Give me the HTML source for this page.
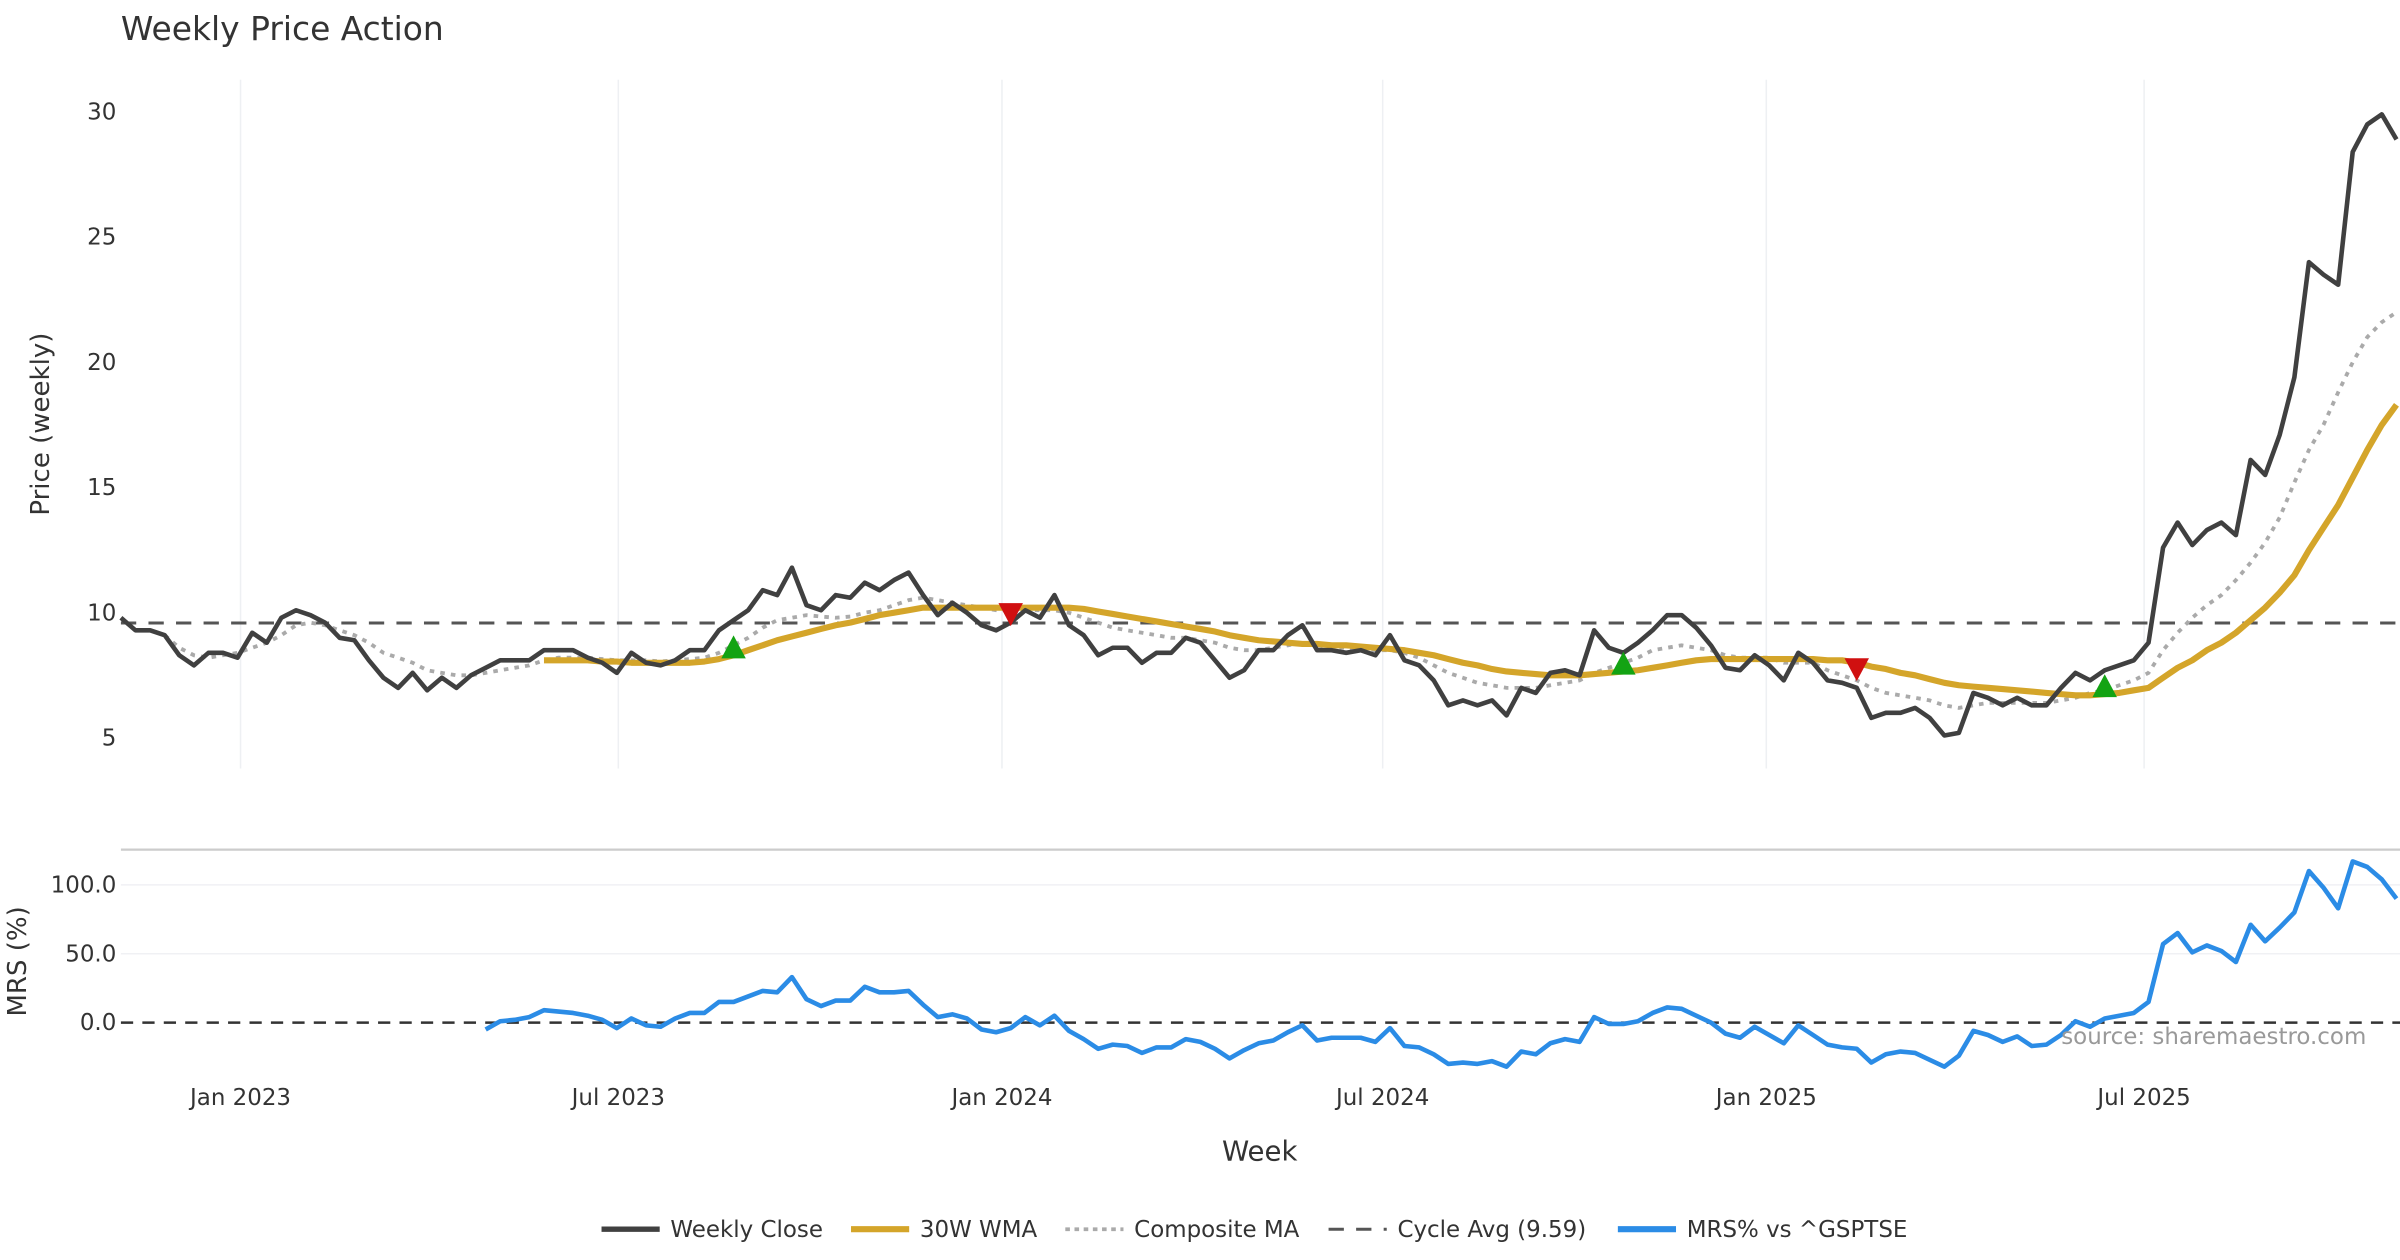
<!DOCTYPE html>
<html><head><meta charset="utf-8"><style>
html,body{margin:0;padding:0;background:#fff;}
svg{display:block;font-family:"DejaVu Sans","Liberation Sans",sans-serif;}
</style></head><body>
<svg id="chart" width="2400" height="1260" viewBox="0 0 1568 823" xmlns="http://www.w3.org/2000/svg">
<rect width="1568" height="823" fill="#fff"/>
<text x="79" y="26" font-size="21.5" fill="#333">Weekly Price Action</text>
<g id="grid"></g>
<g id="price"></g>
<g id="mrs"></g>
<g id="axes"></g>
<text transform="translate(32,277) rotate(-90)" text-anchor="middle" font-size="17" fill="#333">Price (weekly)</text>
<text transform="translate(17,628) rotate(-90)" text-anchor="middle" font-size="17" fill="#333">MRS (%)</text>
<text x="823" y="758" text-anchor="middle" font-size="18" fill="#333">Week</text>
<text x="1546" y="682" text-anchor="end" font-size="15" fill="#999">source: sharemaestro.com</text>
<g font-size="15" fill="#333">
 <g><line x1="393" y1="803" x2="431" y2="803" stroke="#404040" stroke-width="3.5"/><text x="438" y="808">Weekly Close</text></g>
 <g><line x1="556" y1="803" x2="594" y2="803" stroke="#d4a52a" stroke-width="4"/><text x="601" y="808">30W WMA</text></g>
 <g><line x1="696" y1="803" x2="734" y2="803" stroke="#aaa" stroke-width="2.5" stroke-dasharray="3,3"/><text x="741" y="808">Composite MA</text></g>
 <g><line x1="868" y1="803" x2="906" y2="803" stroke="#555" stroke-width="2" stroke-dasharray="10,8"/><text x="913" y="808">Cycle Avg (9.59)</text></g>
 <g><line x1="1057" y1="803" x2="1095" y2="803" stroke="#2b8ce6" stroke-width="4"/><text x="1102" y="808">MRS% vs ^GSPTSE</text></g>
</g>
</svg>
<script>
const closeVals=[9.8,9.3,9.3,9.1,8.3,7.9,8.4,8.4,8.2,9.2,8.8,9.8,10.1,9.9,9.6,9.0,8.9,8.1,7.4,7.0,7.6,6.9,7.4,7.0,7.5,7.8,8.1,8.1,8.1,8.5,8.5,8.5,8.2,8.0,7.6,8.4,8.0,7.9,8.1,8.5,8.5,9.3,9.7,10.1,10.9,10.7,11.8,10.3,10.1,10.7,10.6,11.2,10.9,11.3,11.6,10.7,9.9,10.4,10.0,9.5,9.3,9.6,10.1,9.8,10.7,9.5,9.1,8.3,8.6,8.6,8.0,8.4,8.4,9.0,8.8,8.1,7.4,7.7,8.5,8.5,9.1,9.5,8.5,8.5,8.4,8.5,8.3,9.1,8.1,7.9,7.3,6.3,6.5,6.3,6.5,5.9,7.0,6.8,7.6,7.7,7.5,9.3,8.6,8.4,8.8,9.3,9.9,9.9,9.4,8.7,7.8,7.7,8.3,7.9,7.3,8.4,8.0,7.3,7.2,7.0,5.8,6.0,6.0,6.2,5.8,5.1,5.2,6.8,6.6,6.3,6.6,6.3,6.3,7.0,7.6,7.3,7.7,7.9,8.1,8.8,12.6,13.6,12.7,13.3,13.6,13.1,16.1,15.5,17.1,19.4,24.0,23.5,23.1,28.4,29.5,29.9,28.9];
const wmaStart=29;
const wmaVals=[8.1,8.1,8.1,8.1,8.05,8.05,8.0,8.0,8.0,8.0,8.0,8.05,8.15,8.3,8.5,8.7,8.9,9.05,9.2,9.35,9.5,9.6,9.75,9.9,10.0,10.1,10.2,10.2,10.2,10.2,10.2,10.2,10.2,10.2,10.2,10.2,10.2,10.15,10.05,9.95,9.85,9.75,9.65,9.55,9.45,9.35,9.25,9.1,9.0,8.9,8.85,8.8,8.75,8.75,8.7,8.7,8.65,8.6,8.55,8.5,8.4,8.3,8.15,8.0,7.9,7.75,7.65,7.6,7.55,7.5,7.5,7.5,7.55,7.6,7.65,7.7,7.8,7.9,8.0,8.1,8.15,8.15,8.15,8.15,8.15,8.15,8.15,8.15,8.1,8.1,8.0,7.85,7.75,7.6,7.5,7.35,7.2,7.1,7.05,7.0,6.95,6.9,6.85,6.8,6.75,6.7,6.7,6.75,6.8,6.9,7.0,7.4,7.8,8.1,8.5,8.8,9.2,9.7,10.2,10.8,11.5,12.5,13.4,14.3,15.4,16.5,17.5,18.3];
const compStart=3;
const compVals=[9.1,8.6,8.3,8.2,8.3,8.4,8.6,8.8,9.1,9.5,9.6,9.5,9.3,9.1,8.8,8.4,8.2,8.0,7.7,7.6,7.5,7.5,7.6,7.7,7.8,7.9,8.1,8.2,8.2,8.2,8.15,8.1,8.1,8.1,8.05,8.1,8.15,8.2,8.4,8.7,9.0,9.4,9.7,9.8,9.9,9.85,9.8,9.85,10.0,10.1,10.3,10.5,10.6,10.5,10.4,10.3,10.2,10.1,10.1,10.1,10.1,10.1,10.0,9.8,9.6,9.4,9.3,9.2,9.1,9.0,9.0,8.9,8.8,8.6,8.5,8.5,8.6,8.7,8.8,8.7,8.6,8.6,8.5,8.5,8.5,8.4,8.2,7.9,7.6,7.4,7.2,7.1,7.0,7.0,7.0,7.1,7.2,7.3,7.6,7.8,8.0,8.2,8.5,8.6,8.7,8.6,8.5,8.3,8.2,8.2,8.2,8.0,8.0,8.0,7.7,7.5,7.3,7.0,6.8,6.7,6.6,6.5,6.3,6.2,6.3,6.4,6.4,6.4,6.4,6.4,6.5,6.6,6.8,6.9,7.1,7.3,7.6,8.5,9.2,9.8,10.3,10.7,11.3,12.0,12.8,13.8,15.2,16.5,17.5,18.8,20.0,21.0,21.6,22.0];
const cycleAvg=9.59;
const mrsStart=25;
const mrsVals=[-5,1,2,4,9,8,7,5,2,-4,3,-2,-3,3,7,7,15,15,19,23,22,33,17,12,16,16,26,22,22,23,13,4,6,3,-5,-7,-4,4,-2,5,-6,-12,-19,-16,-17,-22,-18,-18,-12,-14,-19,-26,-20,-15,-13,-7,-2,-13,-11,-11,-11,-14,-4,-17,-18,-23,-30,-29,-30,-28,-32,-21,-23,-15,-12,-14,4,-1,-1,1,7,11,10,5,0,-8,-11,-3,-9,-15,-2,-9,-16,-18,-19,-29,-23,-21,-22,-27,-32,-24,-6,-9,-14,-10,-17,-16,-9,1,-3,3,5,7,15,57,65,51,56,52,44,71,59,69,80,110,98,83,117,113,104,90];
const buySignals=[42,103,136];
const sellSignals=[61,119];
const priceTicks=[5,10,15,20,25,30];
const mrsTicks=[0,50,100];
const xTickIdx=[8.2,34.1,60.4,86.5,112.8,138.7];
const xTickLabels=["Jan 2023","Jul 2023","Jan 2024","Jul 2024","Jan 2025","Jul 2025"];

const NS="http://www.w3.org/2000/svg";
const X0=79, STEP=9.53;
const xS=i=>X0+i*STEP;
const yP=v=>482-(v-5)*16.36;
const yM=v=>668-v*0.9;
function mk(tag,attrs,parent){const e=document.createElementNS(NS,tag);for(const k in attrs)e.setAttribute(k,attrs[k]);parent.appendChild(e);return e;}
const grid=document.getElementById('grid'),price=document.getElementById('price'),mrs=document.getElementById('mrs'),axes=document.getElementById('axes');

xTickIdx.forEach((t,k)=>{
  const x=xS(t);
  const g1=mk('line',{x1:x,y1:52,x2:x,y2:502,stroke:'#eef0f3','stroke-width':1},grid);
  
  
  const lab=mk('text',{x:x,y:722,'text-anchor':'middle','font-size':15,fill:'#333'},axes);
  lab.textContent=xTickLabels[k];
  
  
});
priceTicks.forEach(v=>{
  const t=mk('text',{x:76,y:yP(v)+5,'text-anchor':'end','font-size':15,fill:'#333'},axes);
  t.textContent=v;
  
  
});
mrsTicks.forEach(v=>{
  if(v!==0){const gl=mk('line',{x1:79,y1:yM(v),x2:1568,y2:yM(v),stroke:'#f0f1f4','stroke-width':1},grid);
  
  }
  const t=mk('text',{x:76,y:yM(v)+5,'text-anchor':'end','font-size':15,fill:'#333'},axes);
  t.textContent=v.toFixed(1);
  
  
});
const sep=mk('line',{x1:79,y1:555,x2:1568,y2:555,stroke:'#ccc','stroke-width':1.5},grid);



function pts(vals,start,yf){return vals.map((v,i)=>xS(start+i).toFixed(1)+','+yf(v).toFixed(1)).join(' ');}
const cyc=mk('line',{x1:79,y1:yP(cycleAvg),x2:1568,y2:yP(cycleAvg),stroke:'#555','stroke-width':2,'stroke-dasharray':'10,8'},price);


const comp=mk('polyline',{points:pts(compVals,compStart,yP),fill:'none',stroke:'#aaa','stroke-width':2.5,'stroke-dasharray':'3,4'},price);


const wma=mk('polyline',{points:pts(wmaVals,wmaStart,yP),fill:'none',stroke:'#d4a52a','stroke-width':4,'stroke-linejoin':'round'},price);


const cl=mk('polyline',{points:pts(closeVals,0,yP),fill:'none',stroke:'#404040','stroke-width':3,'stroke-linejoin':'round'},price);


buySignals.forEach(i=>{
  const x=xS(i),y=yP(wmaVals[i-wmaStart]);
  const p=mk('polygon',{points:`${x-8},${y+2} ${x+8},${y+2} ${x},${y-13}`,fill:'#13a313'},price);
  
  
});
sellSignals.forEach(i=>{
  const x=xS(i),y=yP(wmaVals[i-wmaStart]);
  const p=mk('polygon',{points:`${x-8},${y-3} ${x+8},${y-3} ${x},${y+12}`,fill:'#d01010'},price);
  
  
});
const zl=mk('line',{x1:79,y1:yM(0),x2:1568,y2:yM(0),stroke:'#333','stroke-width':1.6,'stroke-dasharray':'8,6'},mrs);


const ml=mk('polyline',{points:pts(mrsVals,mrsStart,yM),fill:'none',stroke:'#2b8ce6','stroke-width':3,'stroke-linejoin':'round'},mrs);


</script>
</body></html>
